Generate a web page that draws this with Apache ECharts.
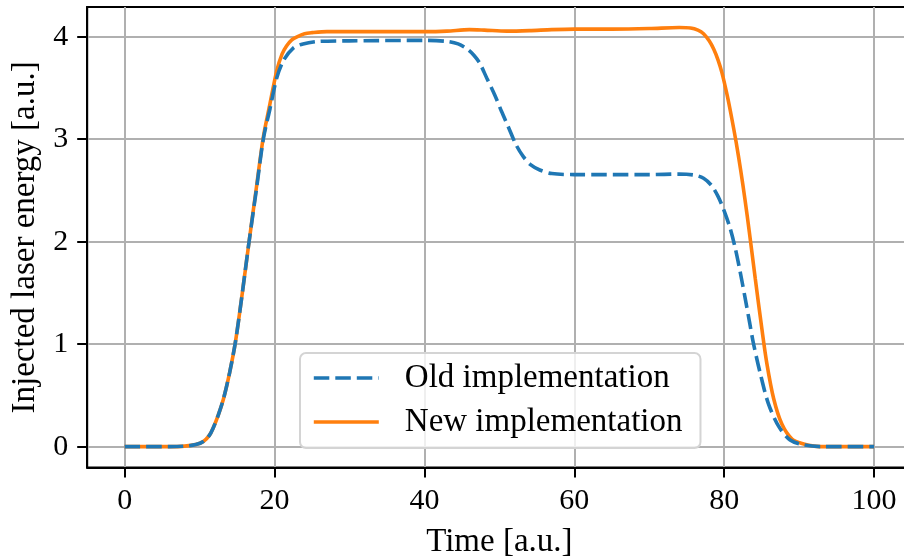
<!DOCTYPE html>
<html>
<head>
<meta charset="utf-8">
<title>Injected laser energy</title>
<script src="https://cdn.jsdelivr.net/npm/echarts@6/dist/echarts.min.js"></script>
<style>
  html, body { margin: 0; padding: 0; background: #ffffff; }
  #chart { width: 904px; height: 559px; }
</style>
</head>
<body>
<div id="chart"></div>
<script>
// Time samples and energy values for each implementation
const oldTime = [0, 6, 8, 9.5, 10.5, 11.3, 11.8, 12.5, 13.2, 14.0, 14.8, 15.7, 16.6, 17.6, 18.5, 19.4,
  20.3, 21.2, 22.5, 23.8, 26, 30, 40, 43, 44.5, 45.7, 46.6, 47.4, 48.3, 49.4, 50.3, 51.2, 52.2,
  53.2, 54.2, 55.4, 57, 60, 70, 74, 76, 77.25, 78.3, 79.2, 80.0, 80.8, 81.5, 82.15, 82.8, 83.4,
  83.9, 84.8, 85.9, 87.3, 88.8, 90.6, 93, 100];
const oldEnergy = [0, 0, 0.005, 0.02, 0.05, 0.11, 0.18, 0.31, 0.47, 0.72, 1.03, 1.5, 2.0, 2.52, 3.0, 3.30,
  3.60, 3.77, 3.89, 3.93, 3.955, 3.96, 3.965, 3.955, 3.93, 3.88, 3.82, 3.74, 3.60, 3.43, 3.27, 3.12, 2.95,
  2.83, 2.75, 2.70, 2.665, 2.655, 2.655, 2.66, 2.65, 2.62, 2.55, 2.44, 2.30, 2.13, 1.93, 1.70, 1.45, 1.21,
  1.01, 0.72, 0.42, 0.195, 0.065, 0.017, 0, 0];

const newTime = [0, 6, 8, 9.5, 10.5, 11.3, 11.8, 12.5, 13.2, 14.0, 14.8, 15.7, 16.6, 17.6, 18.5, 19.4,
  20.3, 21.0, 21.6, 22.3, 23.0, 24.0, 25, 27, 30, 35, 40, 43, 46, 48, 51, 54, 57, 60, 65, 70, 74,
  75.5, 76.5, 77.25, 78.0, 78.6, 79.2, 79.7, 80.4, 81.0, 81.6, 82.2, 82.8, 83.35, 84.15, 85.05, 85.7,
  86.6, 87.7, 89.05, 90.6, 92, 94, 100];
const newEnergy = [0, 0, 0.005, 0.02, 0.05, 0.11, 0.18, 0.31, 0.47, 0.72, 1.03, 1.5, 2.0, 2.54, 3.02, 3.35,
  3.67, 3.83, 3.91, 3.97, 4.0, 4.03, 4.04, 4.05, 4.05, 4.05, 4.05, 4.055, 4.07, 4.065, 4.055, 4.06, 4.07,
  4.075, 4.075, 4.08, 4.09, 4.085, 4.065, 4.03, 3.96, 3.88, 3.77, 3.65, 3.43, 3.21, 2.97, 2.70, 2.40,
  2.10, 1.64, 1.14, 0.81, 0.47, 0.22, 0.075, 0.026, 0.005, 0, 0];

const xTicks = [0, 20, 40, 60, 80, 100];
const yTicks = [0, 1, 2, 3, 4];
const seriesNames = ['Old implementation', 'New implementation'];
const axisTitles = { x: 'Time [a.u.]', y: 'Injected laser energy [a.u.]' };

const zip = (xs, ys) => xs.map((x, i) => [x, ys[i]]);

const serif = '"Liberation Serif", "DejaVu Serif", serif';

const chart = echarts.init(document.getElementById('chart'), null, { renderer: 'canvas' });

chart.setOption({
  animation: false,
  backgroundColor: '#ffffff',
  grid: {
    left: 87.2, top: 7.1, width: 824.3, height: 460.5,
    containLabel: false, outerBoundsMode: 'none',
    show: true, borderColor: '#000000', borderWidth: 2, backgroundColor: 'transparent'
  },
  legend: {
    data: seriesNames,
    orient: 'vertical',
    left: 300, top: 353,
    padding: [7, 18, 8, 12],
    itemWidth: 65, itemHeight: 14, itemGap: 8,
    itemStyle: { opacity: 0 },
    lineStyle: { width: 3.6 },
    backgroundColor: 'rgba(255,255,255,0.8)',
    borderColor: '#d4d4d4', borderWidth: 2, borderRadius: 6,
    textStyle: { fontFamily: serif, fontSize: 33, color: '#000', lineHeight: 36, padding: [0, 0, 0, 21] }
  },
  xAxis: {
    type: 'value', min: -5, max: 105,
    name: axisTitles.x, nameLocation: 'middle', nameGap: 58,
    nameTextStyle: { fontFamily: serif, fontSize: 33, color: '#000' },
    axisLine: { show: true, onZero: false, lineStyle: { color: '#000', width: 2 } },
    axisTick: { show: true, customValues: xTicks, length: 10, lineStyle: { color: '#000', width: 2 } },
    axisLabel: { customValues: xTicks, fontFamily: serif, fontSize: 30, color: '#000', margin: 19 },
    splitLine: { show: true, lineStyle: { color: '#b0b0b0', width: 2 } }
  },
  yAxis: {
    type: 'value', min: -0.2045, max: 4.2895,
    name: axisTitles.y, nameLocation: 'middle', nameGap: 43,
    nameTextStyle: { fontFamily: serif, fontSize: 33, color: '#000' },
    axisLine: { show: true, onZero: false, lineStyle: { color: '#000', width: 2 } },
    axisTick: { show: true, customValues: yTicks, length: 10, lineStyle: { color: '#000', width: 2 } },
    axisLabel: { customValues: yTicks, fontFamily: serif, fontSize: 30, color: '#000', margin: 19 },
    splitLine: { show: true, lineStyle: { color: '#b0b0b0', width: 2 } }
  },
  series: [
    {
      name: seriesNames[1], type: 'line', data: zip(newTime, newEnergy),
      symbol: 'none', showSymbol: false, smooth: 0.3,
      lineStyle: { color: '#ff7f0e', width: 3.6 }, itemStyle: { color: '#ff7f0e' }
    },
    {
      name: seriesNames[0], type: 'line', data: zip(oldTime, oldEnergy),
      symbol: 'none', showSymbol: false, smooth: 0.3,
      lineStyle: { color: '#1f77b4', width: 3.6, type: [15.5, 6], cap: 'butt' }, itemStyle: { color: '#1f77b4' }
    }
  ]
});
</script>
</body>
</html>
